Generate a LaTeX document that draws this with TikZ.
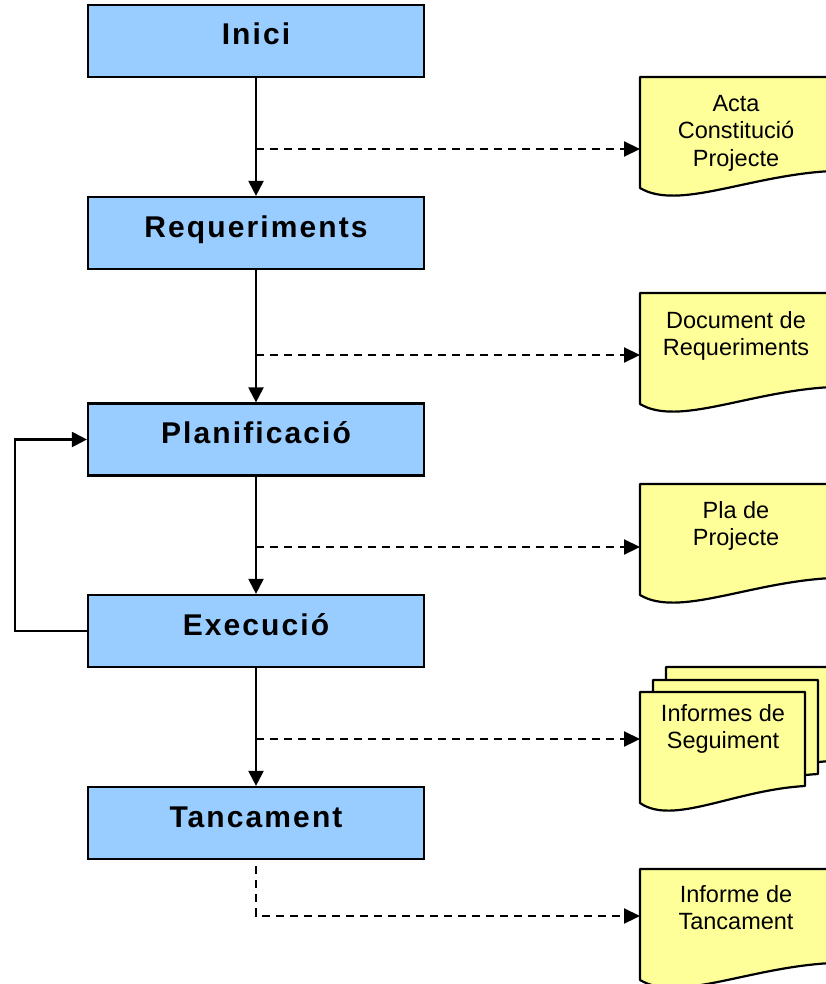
\documentclass[tikz,border=0pt]{standalone}
\usepackage{fontspec}
\setmainfont{Liberation Sans}
\newfontfamily\stagefont[LetterSpace=7]{Liberation Sans}
\usetikzlibrary{arrows.meta}

\definecolor{stageblue}{HTML}{99CCFF}
\definecolor{docyellow}{HTML}{FFFF99}

% outline of a document sheet with a wavy lower edge, top-left corner at the origin
\newcommand\sheetoutline[1]{(0,0) -- (#1,0) -- (#1,94)
  .. controls ({#1*0.57},98) and ({#1*0.2},134) .. (0,111) -- cycle}

\begin{document}
\begin{tikzpicture}[x=1pt,y=-1pt,
  stagebox/.style={draw=black, line width=2.2pt, fill=stageblue,
    minimum width=336pt, minimum height=72pt, inner sep=0pt,
    text height=20pt, text depth=12pt,
    font=\stagefont\fontsize{30}{34}\selectfont\bfseries},
  sheet/.style={draw=black, line width=2.2pt, fill=docyellow, line join=round},
  doctext/.style={font=\fontsize{23.5}{27.5}\selectfont, align=center,
    anchor=north, inner sep=0pt},
  flow/.style={line width=2.2pt, -{Triangle[length=15pt,width=15pt]}},
  docflow/.style={line width=2.2pt, dash pattern=on 8pt off 6pt,
    -{Triangle[length=16pt,width=15pt]}}]

\useasboundingbox (0,0) rectangle (826,984);
\fill[white] (0,0) rectangle (826,984);
\begin{scope}
\clip (0,0) rectangle (826,984);

% project stages
\node[stagebox] (inici) at (256,41)    {Inici};
\node[stagebox] (req)   at (256,233)   {Requeriments};
\node[stagebox] (plan)  at (256,439.5) {Planificació};
\node[stagebox] (exec)  at (256,631)   {Execució};
\node[stagebox] (tanc)  at (256,823)   {Tancament};

% deliverables
\draw[sheet, shift={(640,77)}]  \sheetoutline{192};
\draw[sheet, shift={(640,293)}] \sheetoutline{192};
\draw[sheet, shift={(640,484)}] \sheetoutline{192};
\draw[sheet, shift={(666,667)}] \sheetoutline{165};
\draw[sheet, shift={(653,680)}] \sheetoutline{165};
\draw[sheet, shift={(640,692)}] \sheetoutline{165};
\draw[sheet, shift={(640,869)}] \sheetoutline{192};

\node[doctext] (acta)  at (736,95)  {Acta\\Constitució\\Projecte};
\node[doctext] (docreq) at (736,311) {Document de\\Requeriments};
\node[doctext] (pla)   at (736,501) {Pla de\\Projecte};
\node[doctext] (infseg) at (723,704) {Informes de\\Seguiment};
\node[doctext] (inftanc) at (736,885) {Informe de\\Tancament};

\coordinate (actaIn)    at (640,149);
\coordinate (docreqIn)  at (640,355);
\coordinate (plaIn)     at (640,547);
\coordinate (infsegIn)  at (640,739);
\coordinate (inftancIn) at (640,916);

% stage sequence
\draw[flow] (inici.south) -- (req.north);
\draw[flow] (req.south)   -- (plan.north);
\draw[flow] (plan.south)  -- (exec.north);
\draw[flow] (exec.south)  -- (tanc.north);
\draw[flow] (exec.west) -- ++(-72,0) |- (plan.west);

% outputs of each stage
\draw[docflow] (inici.south |- actaIn)   -- (actaIn);
\draw[docflow] (req.south   |- docreqIn) -- (docreqIn);
\draw[docflow] (plan.south  |- plaIn)    -- (plaIn);
\draw[docflow] (exec.south  |- infsegIn) -- (infsegIn);
\draw[docflow, dash phase=8pt] (tanc.south) -- (tanc.south |- inftancIn) -- (inftancIn);
\end{scope}
\end{tikzpicture}
\end{document}
